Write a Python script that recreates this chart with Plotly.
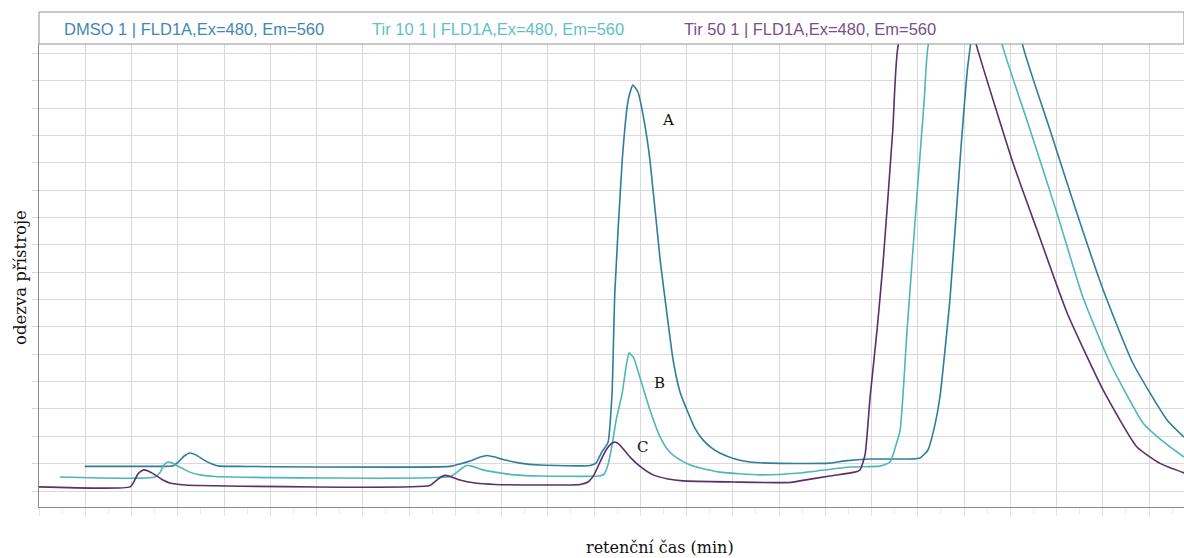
import plotly.graph_objects as go

# ---- data (x: grid units of retention time, y: detector response, grid units) ----
series_names = ["DMSO 1 | FLD1A,Ex=480, Em=560",
                "Tir 10 1 | FLD1A,Ex=480, Em=560",
                "Tir 50 1 | FLD1A,Ex=480, Em=560"]

dmso_x = [0.99, 2.62, 2.88, 3.01, 3.14, 3.26, 3.39, 3.57, 3.74, 3.91, 4.35,
          8.89, 9.10, 9.32, 9.54, 9.69, 9.86, 10.08, 10.40, 10.83, 11.91,
          12.04, 12.17, 12.30, 12.39, 12.45, 12.61, 12.74, 12.84, 12.95, 13.10,
          13.21, 13.43, 13.58, 13.71, 13.86, 14.01, 14.18, 14.36, 14.55, 14.72,
          15.05, 15.37, 16.02, 17.10, 17.43, 17.97, 19.05, 19.22, 19.37, 19.48,
          19.70, 19.91, 20.09, 20.67, 21.28, 21.86, 22.44, 23.01, 23.65, 24.39, 24.76]
dmso_y = [0.90, 0.90, 0.91, 1.06, 1.28, 1.39, 1.32, 1.13, 0.99, 0.91, 0.90,
          0.90, 0.99, 1.10, 1.24, 1.30, 1.24, 1.13, 1.02, 0.95, 0.93,
          1.02, 1.43, 1.76, 3.58, 7.24, 12.10, 14.30, 14.84, 14.59, 13.38,
          12.10, 8.45, 6.44, 4.79, 3.62, 2.96, 2.30, 1.86, 1.57, 1.39,
          1.17, 1.06, 1.01, 1.02, 1.10, 1.17, 1.21, 1.50, 2.41, 3.44,
          7.09, 11.99, 15.65, 21.61, 16.23, 13.20, 10.16, 7.35, 4.68, 2.60, 1.97]

tir10_x = [0.45, 2.51, 2.62, 2.70, 2.79, 2.88, 2.98, 3.09, 3.26, 3.48, 3.81,
           8.89, 9.04, 9.15, 9.25, 9.36, 9.54, 9.86, 10.29, 10.83, 12.09,
           12.22, 12.30, 12.39, 12.48, 12.61, 12.70, 12.76, 12.86, 12.99, 13.21,
           13.43, 13.60, 13.79, 14.08, 14.30, 14.72, 15.59, 16.45, 17.54, 18.18,
           18.40, 18.53, 18.62, 18.77, 18.98, 19.14, 19.22, 20.02, 20.84, 21.43,
           22.01, 22.57, 23.16, 23.87, 24.35, 24.76]
tir10_y = [0.51, 0.51, 0.69, 0.95, 1.06, 1.02, 0.93, 0.84, 0.69, 0.59, 0.53,
           0.53, 0.69, 0.84, 0.93, 0.91, 0.80, 0.69, 0.59, 0.55, 0.55,
           0.62, 0.95, 1.68, 2.60, 3.58, 4.61, 5.05, 4.86, 4.17, 2.96,
           1.97, 1.50, 1.21, 0.95, 0.84, 0.69, 0.59, 0.66, 0.88, 0.91,
           1.06, 1.68, 2.23, 5.89, 10.75, 14.30, 16.23, 21.61, 16.23, 13.20,
           10.16, 7.09, 4.68, 2.49, 1.75, 1.24]

tir50_x = [0.00, 1.97, 2.05, 2.14, 2.25, 2.36, 2.51, 2.68, 2.83, 3.16, 3.48,
           8.45, 8.58, 8.69, 8.78, 8.89, 9.10, 9.43, 9.86, 11.70, 11.87,
           12.00, 12.13, 12.26, 12.37, 12.45, 12.56, 12.78, 12.99, 13.28, 13.60,
           13.92, 15.01, 16.24, 16.45, 17.10, 17.64, 17.75, 17.86, 17.97, 18.12,
           18.25, 18.46, 18.57, 19.42, 20.28, 21.06, 21.58, 22.23, 23.01, 23.74,
           24.25, 24.76]
tir50_y = [0.15, 0.15, 0.33, 0.62, 0.77, 0.73, 0.59, 0.40, 0.29, 0.22, 0.20,
           0.20, 0.37, 0.51, 0.57, 0.53, 0.40, 0.29, 0.24, 0.24, 0.33,
           0.59, 1.06, 1.50, 1.72, 1.79, 1.68, 1.24, 0.91, 0.59, 0.44,
           0.37, 0.33, 0.31, 0.37, 0.55, 0.69, 0.77, 1.32, 3.44, 5.89,
           8.34, 13.20, 16.23, 21.61, 16.23, 11.99, 9.54, 6.51, 3.69, 1.61,
           1.00, 0.66]

peak_labels = ["A", "B", "C"]
peak_label_x = [13.60, 13.41, 13.04]
peak_label_y = [13.56, 3.95, 1.61]

line_colors = ["#2f7d9d", "#4db7bc", "#5a2f6e"]
text_colors = ["#3f87b6", "#5fc1c7", "#7a4f8a"]

W, H = 1184, 558
ML, MR, MT, MB = 39, 0, 44, 51
PW, PH = W - ML - MR, H - MT - MB

def px_x(px):
    return (px - ML) / PW

def px_y(py):
    return (H - MB - py) / PH

fig = go.Figure()
for xs, ys, name, col in [(dmso_x, dmso_y, series_names[0], line_colors[0]),
                          (tir10_x, tir10_y, series_names[1], line_colors[1]),
                          (tir50_x, tir50_y, series_names[2], line_colors[2])]:
    fig.add_trace(go.Scatter(x=xs, y=ys, mode="lines", name=name,
                             line=dict(color=col, width=1.6, shape="spline", smoothing=0.5),
                             showlegend=False))

serif = "DejaVu Serif"
annotations = []
for lbl, lx, ly in zip(peak_labels, peak_label_x, peak_label_y):
    annotations.append(dict(x=lx, y=ly, xref="x", yref="y", text=lbl, showarrow=False,
                            font=dict(family=serif, size=15, color="#111111")))

legend_px = [62, 370, 682]
for name, col, lp in zip(series_names, text_colors, legend_px):
    annotations.append(dict(x=px_x(lp), y=px_y(29.5), xref="paper", yref="paper",
                            text=name, showarrow=False, xanchor="left", yanchor="middle",
                            font=dict(family="Liberation Sans", size=16.5, color=col)))

annotations.append(dict(x=px_x(660), y=px_y(547), xref="paper", yref="paper",
                        text="retenční čas (min)", showarrow=False,
                        xanchor="center", yanchor="middle",
                        font=dict(family=serif, size=16, color="#111111")))
annotations.append(dict(x=px_x(20), y=px_y(278), xref="paper", yref="paper",
                        text="odezva přístroje", showarrow=False, textangle=-90,
                        xanchor="center", yanchor="middle",
                        font=dict(family=serif, size=16.5, color="#111111")))

fig.update_layout(
    width=W, height=H,
    margin=dict(l=ML, r=MR, t=MT, b=MB, pad=0),
    paper_bgcolor="white", plot_bgcolor="white",
    annotations=annotations,
    shapes=[dict(type="rect", xref="paper", yref="paper",
                 x0=0, x1=1, y0=1, y1=px_y(12),
                 line=dict(color="#8f8f8f", width=1), fillcolor="rgba(0,0,0,0)")],
    xaxis=dict(range=[0, PW / 46.25], tick0=0, dtick=1, showticklabels=False,
               showgrid=True, gridcolor="#dadada", gridwidth=1, zeroline=False,
               showline=True, linecolor="#8a8a8a", linewidth=1,
               ticks="outside", ticklen=8, tickcolor="#e2e2e2",
               minor=dict(dtick=0.5, ticks="outside", ticklen=6, tickcolor="#ececec", showgrid=False),
               fixedrange=True),
    yaxis=dict(range=[-16 / 27.35, (491 - MT) / 27.35], tick0=0, dtick=1, showticklabels=False,
               showgrid=True, gridcolor="#dadada", gridwidth=1, zeroline=False,
               showline=True, linecolor="#8a8a8a", linewidth=1,
               ticks="outside", ticklen=6, tickcolor="#d8d8d8",
               fixedrange=True),
)

fig.write_html("out.html", config={"displayModeBar": False},
               post_script="document.body.style.margin='0';document.body.style.overflow='hidden';")
